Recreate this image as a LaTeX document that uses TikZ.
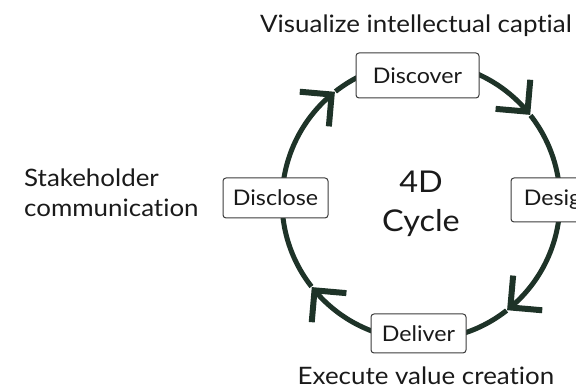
\documentclass[tikz,border=0pt]{standalone}
\usepackage{fontspec}
\setmainfont{Lato}[Ligatures=NoCommon, FakeStretch=1.08]
\usetikzlibrary{calc}
\definecolor{ring}{HTML}{1E3328}
\definecolor{ink}{HTML}{1A1A1A}
\begin{document}
\begin{tikzpicture}[x=1pt,y=1pt,
  stage/.style={draw=ink!85, line width=1pt, rounded corners=3pt, fill=white, text=ink,
    font=\fontsize{21.5}{24}\selectfont, inner sep=0pt},
  ringline/.style={draw=ring, line width=5pt},
  chev/.style={draw=ring, line width=6pt, line join=miter},
  lab/.style={text=ink, font=\fontsize{24}{30}\selectfont, inner sep=0pt}]
\useasboundingbox (0,0) rectangle (576,390);
\clip (0,0) rectangle (576,390);
\coordinate (C) at (421,189);
\def\R{139}
% ring segments
\draw[ringline] ($(C)+(128:\R)$) arc[start angle=128, end angle=40, radius=\R];
\draw[ringline] ($(C)+(38:\R)$) arc[start angle=38, end angle=-50, radius=\R];
\draw[ringline] ($(C)+(-52:\R)$) arc[start angle=-52, end angle=-140, radius=\R];
\draw[ringline] ($(C)+(-142:\R)$) arc[start angle=-142, end angle=-230, radius=\R];
% arrow heads
\coordinate (t1) at ($(C)+(40:\R)$);
\coordinate (t2) at ($(C)+(-50:\R)$);
\coordinate (t3) at ($(C)+(-140:\R)$);
\coordinate (t4) at ($(C)+(130:\R)$);
\draw[chev] ($(t1)+(85:32)$) -- (t1) -- ($(t1)+(175:32)$);
\draw[chev] ($(t2)+(-5:32)$) -- (t2) -- ($(t2)+(85:32)$);
\draw[chev] ($(t3)+(-95:32)$) -- (t3) -- ($(t3)+(-5:32)$);
\draw[chev] ($(t4)+(175:32)$) -- (t4) -- ($(t4)+(265:32)$);
% stages
\node[stage, minimum width=123, minimum height=45] (discover) at (417.5,314.5) {Discover};
\node[stage, minimum width=96, minimum height=44] (design) at (559,190) {Design};
\node[stage, minimum width=95, minimum height=39] (deliver) at (418.5,56.5) {Deliver};
\node[stage, minimum width=105, minimum height=40] (disclose) at (275.5,192) {Disclose};
% centre
\node[lab, font=\fontsize{30}{39}\selectfont, align=center, anchor=base] (core) at (421,158) {4D\\Cycle};
% outer labels
\node[lab, anchor=base] (visualize) at (416,357) {Visualize intellectual captial};
\node[lab, align=left, anchor=base west] (stake) at (24,173) {Stakeholder\\communication};
\node[lab, anchor=base] (execute) at (426,5) {Execute value creation};
\end{tikzpicture}
\end{document}
